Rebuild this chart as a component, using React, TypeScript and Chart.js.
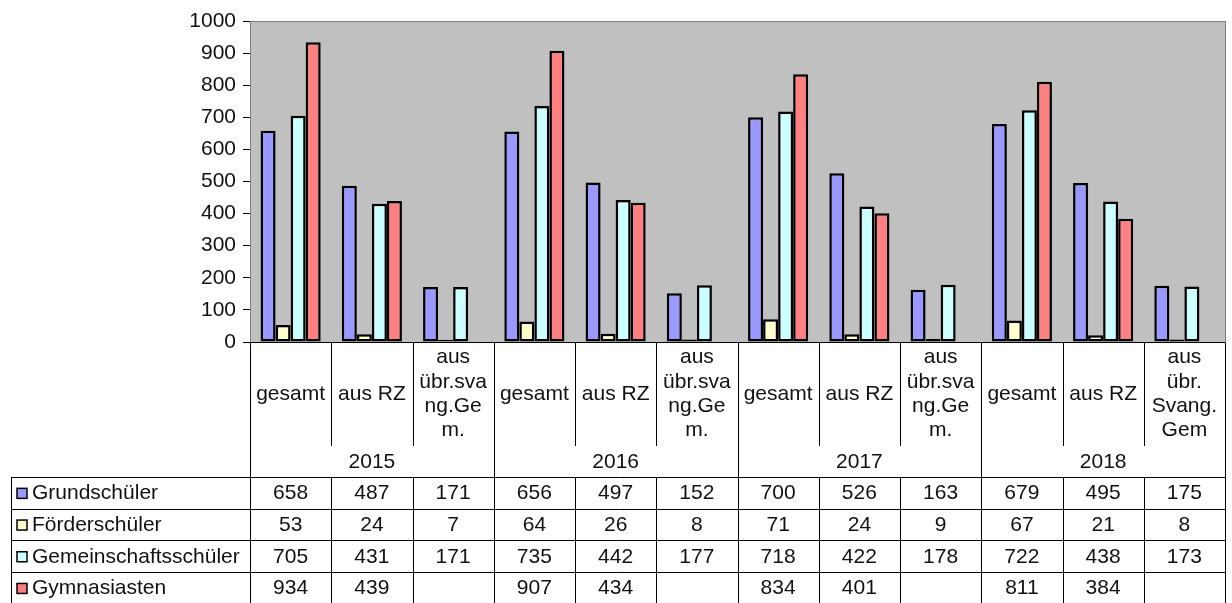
import React, { useEffect, useRef } from "react";
import { Chart, registerables } from "chart.js";

Chart.register(...registerables);

const years = ["2015", "2016", "2017", "2018"];
const subLabels: string[][] = [
  ["gesamt"], ["aus RZ"], ["aus", "übr.sva", "ng.Ge", "m."],
  ["gesamt"], ["aus RZ"], ["aus", "übr.sva", "ng.Ge", "m."],
  ["gesamt"], ["aus RZ"], ["aus", "übr.sva", "ng.Ge", "m."],
  ["gesamt"], ["aus RZ"], ["aus", "übr.", "Svang.", "Gem"],
];
const seriesNames = ["Grundschüler", "Förderschüler", "Gemeinschaftsschüler", "Gymnasiasten"];
const grundschueler = [658, 487, 171, 656, 497, 152, 700, 526, 163, 679, 495, 175];
const foerderschueler = [53, 24, 7, 64, 26, 8, 71, 24, 9, 67, 21, 8];
const gemeinschaftsschueler = [705, 431, 171, 735, 442, 177, 718, 422, 178, 722, 438, 173];
const gymnasiasten: (number | null)[] = [934, 439, null, 907, 434, null, 834, 401, null, 811, 384, null];
const seriesColors = ["#9999FF", "#FFFFCC", "#CCFFFF", "#FF8080"];

const FONT = "'Liberation Sans', Arial, sans-serif";
const TEXT = "#111";
const FS = 21;

const bgPlugin = {
  id: "plotBg",
  beforeDatasetsDraw(chart: any) {
    const { ctx, chartArea: a } = chart;
    ctx.save();
    ctx.fillStyle = "#C0C0C0";
    ctx.fillRect(a.left, a.top, a.right - a.left, a.bottom - a.top);
    ctx.strokeStyle = "#808080";
    ctx.lineWidth = 1;
    ctx.strokeRect(Math.round(a.left) + 0.5, Math.round(a.top) + 0.5, a.right - a.left, a.bottom - a.top);
    ctx.restore();
  },
};

const tablePlugin = {
  id: "dataTable",
  afterDraw(chart: any) {
    const { ctx, chartArea: a } = chart;
    const n = subLabels.length;
    const w = (a.right - a.left) / n;
    const bx = (i: number) => Math.round(a.left + i * w) + 0.5;
    const cx = (i: number) => a.left + (i + 0.5) * w;
    const top = Math.round(a.bottom) + 0.5;
    const subBottom = 446;
    const yearBottom = 477.5;
    const rowH = 31.7;
    const tableLeft = 11.5;
    const bottom = 610;

    ctx.save();
    ctx.strokeStyle = "#000";
    ctx.lineWidth = 1;
    ctx.beginPath();
    ctx.moveTo(a.left, top);
    ctx.lineTo(a.right, top);
    for (let i = 0; i <= n; i++) {
      const x = bx(i);
      const isGroup = i % 3 === 0;
      ctx.moveTo(x, top);
      ctx.lineTo(x, isGroup ? bottom : subBottom);
      if (!isGroup) {
        ctx.moveTo(x, yearBottom);
        ctx.lineTo(x, bottom);
      }
    }
    for (let r = 0; r < 5; r++) {
      const y = Math.round(yearBottom - 0.5 + r * rowH) + 0.5;
      ctx.moveTo(tableLeft, y);
      ctx.lineTo(bx(n), y);
    }
    ctx.moveTo(tableLeft, yearBottom - 0.5);
    ctx.lineTo(tableLeft, bottom);
    ctx.stroke();

    ctx.fillStyle = TEXT;
    ctx.font = `${FS}px ${FONT}`;
    ctx.textAlign = "center";
    ctx.textBaseline = "middle";
    const lh = 24.3;
    const subMid = 394;
    subLabels.forEach((lines, i) => {
      const y0 = subMid - ((lines.length - 1) * lh) / 2;
      lines.forEach((t, k) => ctx.fillText(t, cx(i), y0 + k * lh));
    });
    years.forEach((y, g) => {
      ctx.fillText(y, a.left + (g * 3 + 1.5) * w, 462);
    });

    const allSeries = [grundschueler, foerderschueler, gemeinschaftsschueler, gymnasiasten];
    allSeries.forEach((vals, r) => {
      const yc = yearBottom + (r + 0.5) * rowH;
      vals.forEach((v, i) => {
        if (v !== null && v !== undefined) ctx.fillText(String(v), cx(i), yc);
      });
      ctx.fillStyle = seriesColors[r];
      ctx.fillRect(17, yc - 5, 10, 10);
      ctx.strokeStyle = "#000";
      ctx.lineWidth = 1.5;
      ctx.strokeRect(17, yc - 5, 10, 10);
      ctx.fillStyle = TEXT;
      ctx.textAlign = "left";
      ctx.fillText(seriesNames[r], 32, yc);
      ctx.textAlign = "center";
    });
    ctx.restore();
  },
};

export default function App() {
  const ref = useRef<HTMLCanvasElement | null>(null);
  useEffect(() => {
    if (!ref.current) return;
    const data = [grundschueler, foerderschueler, gemeinschaftsschueler, gymnasiasten];
    const chart = new Chart(ref.current, {
      type: "bar",
      data: {
        labels: subLabels.map((l) => l.join(" ")),
        datasets: data.map((d, i) => ({
          label: seriesNames[i],
          data: d,
          backgroundColor: seriesColors[i],
          borderColor: "#000",
          borderWidth: 2.5,
          borderSkipped: false,
          categoryPercentage: 0.74,
          barPercentage: 1.0,
        })),
      },
      options: {
        animation: false,
        responsive: true,
        maintainAspectRatio: false,
        layout: { padding: { left: 0, right: 7, top: 21, bottom: 261 } },
        plugins: { legend: { display: false }, tooltip: { enabled: false } },
        scales: {
          x: { display: false },
          y: {
            min: 0,
            max: 1000,
            ticks: {
              stepSize: 100,
              color: TEXT,
              font: { family: FONT, size: FS },
              padding: 7,
              callback: (v: any) => String(v),
            },
            grid: { drawOnChartArea: false, drawTicks: true, tickLength: 7, color: "#000" },
            border: { display: true, color: "#000", width: 1 },
            afterFit: (scale: any) => {
              scale.width = 250;
            },
          },
        },
      },
      plugins: [bgPlugin, tablePlugin],
    });
    return () => chart.destroy();
  }, []);
  return (
    <div style={{ position: "fixed", left: 0, top: 0, width: 1232, height: 603, background: "#fff" }}>
      <canvas ref={ref} />
    </div>
  );
}
